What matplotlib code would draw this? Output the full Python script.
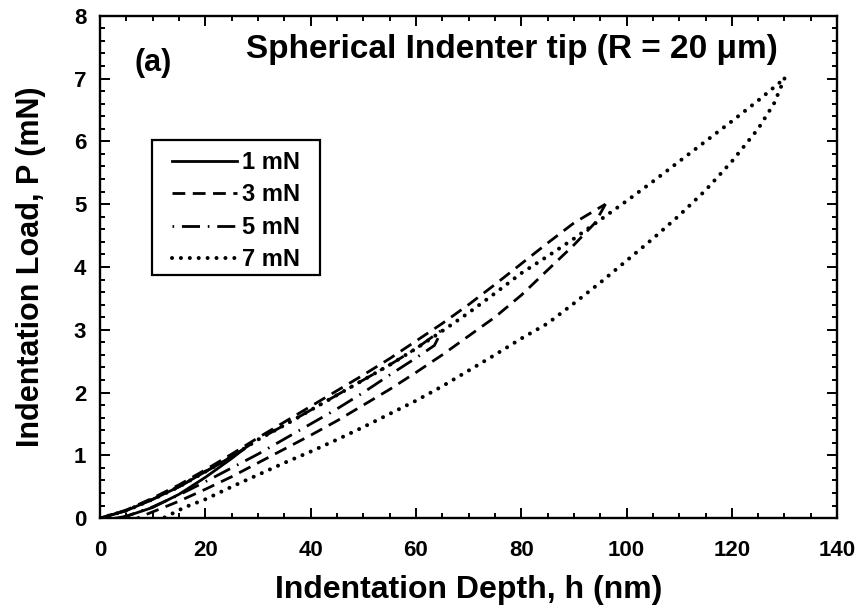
import matplotlib
matplotlib.use("Agg")
import matplotlib.pyplot as plt
from matplotlib.ticker import MultipleLocator
from matplotlib.patches import Rectangle

plt.rcParams['font.family'] = ['Liberation Sans', 'DejaVu Sans']
plt.rcParams['font.weight'] = 'bold'

# ---- data ----
# 1 mN (solid)
h1_load = [0, 5, 10, 15, 20, 25, 27]
p1_load = [0, 0.12, 0.30, 0.50, 0.74, 0.98, 1.08]
h1_unload = [27, 25, 20, 15, 10, 5, 3]
p1_unload = [1.08, 0.95, 0.65, 0.38, 0.17, 0.03, 0.0]

# "3 mN" (dashed)
h3_load = [0, 5, 10, 15, 20, 25, 30, 35, 40, 45, 50, 55, 60, 65, 70, 75, 80, 85, 90, 96]
p3_load = [0, 0.13, 0.32, 0.53, 0.77, 1.02, 1.28, 1.53, 1.78, 2.03, 2.28, 2.54, 2.82,
           3.10, 3.40, 3.72, 4.05, 4.38, 4.70, 5.00]
h3_unload = [96, 94, 90, 85, 80, 75, 70, 65, 60, 55, 50, 45, 40, 35, 30, 25, 20, 15, 10, 7]
p3_unload = [5.00, 4.70, 4.35, 3.95, 3.55, 3.20, 2.90, 2.60, 2.32, 2.05, 1.80, 1.55,
             1.32, 1.10, 0.88, 0.66, 0.46, 0.27, 0.10, 0.0]

# "5 mN" (dash-dot)
h5_load = [0, 5, 10, 15, 20, 25, 30, 35, 40, 45, 50, 55, 60, 65]
p5_load = [0, 0.12, 0.30, 0.50, 0.74, 0.98, 1.25, 1.48, 1.72, 1.96, 2.20, 2.44, 2.70, 3.00]
h5_unload = [65, 63.5, 60, 55, 50, 45, 40, 35, 30, 25, 20, 15, 10, 5, 4]
p5_unload = [3.00, 2.75, 2.55, 2.28, 2.00, 1.74, 1.50, 1.26, 1.02, 0.80, 0.58, 0.37,
             0.18, 0.03, 0.0]

# 7 mN (dotted)
h7_load = [0, 5, 10, 15, 20, 25, 30, 35, 40, 45, 50, 55, 60, 65, 70, 75, 80, 85, 90,
           95, 100, 105, 110, 115, 120, 125, 130]
p7_load = [0, 0.12, 0.30, 0.50, 0.74, 0.98, 1.25, 1.48, 1.72, 1.96, 2.20, 2.44, 2.70,
           2.98, 3.27, 3.58, 3.90, 4.17, 4.45, 4.75, 5.05, 5.36, 5.68, 6.00, 6.32,
           6.65, 7.00]
h7_unload = [130, 128, 125, 120, 115, 110, 105, 100, 95, 90, 85, 80, 75, 70, 65, 60,
             55, 50, 45, 40, 35, 30, 25, 20, 16, 12]
p7_unload = [7.00, 6.60, 6.20, 5.68, 5.22, 4.82, 4.45, 4.10, 3.75, 3.42, 3.10, 2.86,
             2.60, 2.35, 2.10, 1.87, 1.66, 1.45, 1.25, 1.06, 0.88, 0.69, 0.50, 0.30,
             0.17, 0.0]

labels = ["1 mN", "3 mN", "5 mN", "7 mN"]

fig = plt.figure(figsize=(8.63, 6.06), dpi=100)
ax = fig.add_axes([0.116, 0.145, 0.854, 0.829])

lw = 2.0
st_solid = dict(color='black', lw=lw, linestyle='-')
st_dash = dict(color='black', lw=lw, linestyle=(0, (4.6, 2.7)))
st_dashdot = dict(color='black', lw=lw, linestyle=(0, (0.6, 2.8, 6.5, 2.8)))
st_dot = dict(color='black', lw=2.9, linestyle=(0, (0.01, 2.2)), dash_capstyle='round')

l1, = ax.plot(h1_load, p1_load, **st_solid)
ax.plot(h1_unload, p1_unload, **st_solid)
l3, = ax.plot(h3_load, p3_load, **st_dash)
ax.plot(h3_unload, p3_unload, **st_dash)
l5, = ax.plot(h5_load, p5_load, **st_dashdot)
ax.plot(h5_unload, p5_unload, **st_dashdot)
l7, = ax.plot(h7_load, p7_load, **st_dot)
ax.plot(h7_unload, p7_unload, **st_dot)

ax.set_xlim(0, 140)
ax.set_ylim(0, 8)
ax.xaxis.set_major_locator(MultipleLocator(20))
ax.xaxis.set_minor_locator(MultipleLocator(5))
ax.yaxis.set_major_locator(MultipleLocator(1))
ax.yaxis.set_minor_locator(MultipleLocator(0.2))
ax.tick_params(which='both', direction='in', top=True, right=True, width=1.4)
ax.tick_params(which='major', length=7, labelsize=16)
ax.tick_params(axis='x', which='major', pad=16)
ax.tick_params(axis='y', which='major', pad=10)
ax.tick_params(which='minor', length=3.5)
for lab in ax.get_xticklabels() + ax.get_yticklabels():
    lab.set_fontweight('bold')
for s in ax.spines.values():
    s.set_linewidth(1.7)

ax.set_xlabel("Indentation Depth, h (nm)", fontsize=23, fontweight='bold', labelpad=10)
ax.set_ylabel("Indentation Load, P (mN)", fontsize=22, fontweight='bold', labelpad=20)

ax.text(0.047, 0.905, "(a)", transform=ax.transAxes, fontsize=22, fontweight='bold',
        ha='left', va='center')
ax.text(0.559, 0.933, "Spherical Indenter tip (R = 20 \u03bcm)", transform=ax.transAxes,
        fontsize=24, fontweight='bold', ha='center', va='center')

# legend frame drawn separately so inner padding matches the reference
ax.add_patch(Rectangle((0.0706, 0.4837), 0.2279, 0.2687, transform=ax.transAxes,
                       facecolor='white', edgecolor='black', lw=1.6, zorder=4))
leg = ax.legend([l1, l3, l5, l7], labels, loc='upper left',
                bbox_to_anchor=(0.0977, 0.731), borderaxespad=0.0, borderpad=0.0,
                frameon=False, handlelength=2.75, handletextpad=0.2,
                labelspacing=0.4, prop=dict(size=17, weight='bold'))
leg.set_zorder(5)

fig.savefig("out.png", dpi=100)
